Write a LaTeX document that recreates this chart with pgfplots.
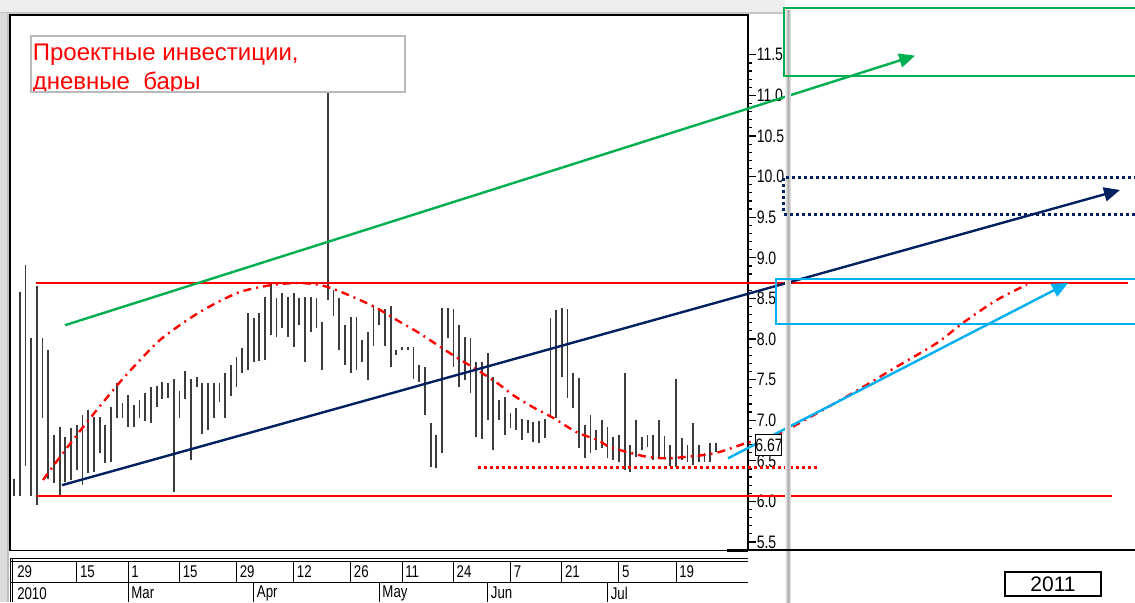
\documentclass[border=0pt]{standalone}
\usepackage{pgfplots}
\pgfplotsset{compat=1.18}
\usepackage{pgfplotstable}
\usepackage{fontspec}
\setmainfont{Liberation Sans}
\usetikzlibrary{arrows.meta}
\definecolor{tgreen}{RGB}{0,176,80}
\definecolor{tnavy}{RGB}{0,32,96}
\definecolor{tcyan}{RGB}{0,176,240}
\definecolor{barc}{RGB}{60,60,60}
\newcommand{\cond}[2]{\scalebox{0.78}[1]{\fontsize{#1}{#1}\selectfont #2}}

\pgfplotstableread{
i hi lo
0 6.27 6.07
1 8.58 6.07
2 8.91 6.44
3 8.01 6.07
4 8.65 5.96
5 8.01 7.03
6 7.86 6.28
7 6.82 6.23
8 6.92 6.08
9 6.79 6.24
10 6.90 6.26
11 6.94 6.39
12 7.06 6.20
13 7.13 6.35
14 7.04 6.36
15 7.04 6.60
16 6.94 6.47
17 7.16 6.49
18 7.46 7.03
19 7.21 7.03
20 7.31 6.92
21 7.19 6.92
22 7.25 7.03
23 7.33 6.99
24 7.41 6.97
25 7.42 7.16
26 7.47 7.26
27 7.46 7.27
28 7.51 6.12
29 7.36 7.03
30 7.61 7.26
31 7.51 6.51
32 7.53 7.41
33 7.46 6.83
34 7.46 6.88
35 7.46 7.03
36 7.46 7.22
37 7.58 7.03
38 7.68 7.30
39 7.78 7.41
40 7.89 7.58
41 8.32 7.62
42 8.26 7.72
43 8.32 7.73
44 8.52 7.74
45 8.69 8.05
46 8.50 8.02
47 8.57 8.14
48 8.52 8.02
49 8.57 7.90
50 8.50 8.17
51 8.52 7.72
52 8.52 8.09
53 8.50 8.14
54 8.21 7.62
55 11.04 8.48
56 8.60 8.28
57 8.50 7.86
58 8.17 7.68
59 8.27 7.58
60 8.27 7.62
61 7.99 7.72
62 8.09 7.50
63 8.41 7.91
64 8.38 8.17
65 8.37 7.91
66 8.41 7.66
67 7.86 7.80
68 7.90 7.87
69 7.90 7.87
70 7.90 7.51
71 7.68 7.47
72 7.66 7.06
73 6.97 6.42
74 6.82 6.41
75 8.38 6.60
76 8.38 8.01
77 8.37 7.66
78 8.17 7.41
79 8.02 7.50
80 8.01 7.33
81 7.72 6.79
82 7.72 6.77
83 7.83 7.00
84 7.53 6.63
85 7.25 7.00
86 7.29 6.82
87 7.09 6.90
88 7.15 6.88
89 7.01 6.76
90 7.00 6.84
91 6.98 6.73
92 6.99 6.72
93 7.01 6.78
94 8.26 7.06
95 8.36 7.03
96 8.38 7.53
97 8.37 7.27
98 7.58 7.15
99 7.52 6.66
100 6.94 6.53
101 7.06 6.60
102 6.88 6.63
103 7.00 6.66
104 6.92 6.53
105 6.79 6.51
106 6.82 6.49
107 7.58 6.39
108 6.69 6.36
109 7.00 6.55
110 6.79 6.63
111 6.82 6.67
112 6.82 6.51
113 7.00 6.53
114 6.80 6.55
115 6.69 6.44
116 7.51 6.42
117 6.78 6.51
118 6.69 6.49
119 6.97 6.45
120 6.69 6.49
121 6.60 6.49
122 6.72 6.49
123 6.72 6.61
}\bars

\pgfplotstableread{
i v
5.08 6.264
8.06 6.547
11.56 6.867
15.07 7.175
18.57 7.470
22.08 7.741
25.58 7.988
29.09 8.172
32.59 8.333
36.10 8.468
39.60 8.579
43.11 8.640
46.61 8.677
50.11 8.690
53.62 8.665
56.6 8.60
60.63 8.48
63.6 8.38
67.64 8.21
70.62 8.09
74.12 7.93
77.62 7.77
81.13 7.62
84.63 7.46
87.44 7.31
90.94 7.16
94.45 7.03
98.65 6.85
102.16 6.76
104.4 6.67
107.9 6.60
110.9 6.55
114.4 6.53
117.9 6.55
120.7 6.57
123.7 6.61
128.4 6.72
134.2 6.84
141.8 7.13
148.8 7.41
154.7 7.66
161.7 7.95
166.3 8.20
172.2 8.48
177.5 8.67
}\curve

\begin{document}
\begin{tikzpicture}
\begin{axis}[
  x=2.8535pt, y=40.6pt,
  xmin=-0.70, xmax=128.61, ymin=5.40, ymax=11.99,
  clip=false,
  axis line style={black, line width=0.6pt},
  xtick=\empty,
  ytick={5.5,6,...,11.5},
  minor y tick num=4,
  ytick pos=right,
  yticklabel pos=right,
  tick align=outside,
  major tick length=4pt,
  minor tick length=2pt,
  every tick/.style={black, line width=0.6pt},
  /pgf/number format/assume math mode=true,
  yticklabel style={anchor=west, inner sep=0pt, xshift=0.2pt},
  yticklabel={\cond{9}{\pgfmathprintnumber[fixed,fixed zerofill,precision=1]{\tick}}},
]
% window decorations
\fill[gray!14] (axis cs:-2.453,12.175) rectangle (axis cs:135.1,12.015);
\fill[gray!45] (axis cs:-2.453,12.03) rectangle (axis cs:135.1,12.005);
\fill[gray!28] (axis cs:-2.453,12.015) rectangle (axis cs:-0.876,4.761);
\fill[gray!50] (axis cs:-1.2,12.015) rectangle (axis cs:-0.876,4.761);

% price bars
\addplot[barc, line width=0.9pt, quiver={u=0, v=\thisrow{hi}-\thisrow{lo}}] table[x=i, y=lo] {\bars};

% horizontal levels
\addplot[red, line width=1.2pt] coordinates {(3.855,8.69) (195.2,8.69)};
\addplot[red, line width=1.2pt] coordinates {(3.855,6.07) (192.4,6.07)};
\addplot[red, line width=1.5pt, dash pattern=on 1.5pt off 1.5pt] coordinates {(81.3,6.42) (140.9,6.42)};

% red dash-dot curve
\addplot[red, line width=1.2pt, smooth, tension=0.5, dash pattern=on 4pt off 2.5pt on 1pt off 2.5pt] table[x=i, y=v] {\curve};

% trend lines with arrows
\addplot[tgreen, line width=1.2pt, -{Triangle[length=8pt,width=7pt]}] coordinates {(8.94,8.17) (157.9,11.49)};
\addplot[tnavy, line width=1.2pt, -{Triangle[length=8pt,width=7pt]}] coordinates {(8.41,6.20) (193.8,9.835)};
\addplot[tcyan, line width=1.2pt, -{Triangle[length=8pt,width=7pt]}] coordinates {(125.1,6.53) (184.7,8.69)};

% right shadow band
\shade[left color=gray!15, right color=gray!15, middle color=gray!65] (axis cs:135.15,12.05) rectangle (axis cs:136.1,4.761);

% target boxes
\addplot[tgreen, line width=1pt] coordinates {(200,12.076) (135.0,12.076) (135.0,11.235) (200,11.235)};
\addplot[tnavy, line width=1.5pt, dash pattern=on 1.5pt off 1.5pt] coordinates {(200,9.983) (134.9,9.983) (134.9,9.539) (200,9.539)};
\addplot[tcyan, line width=1pt] coordinates {(200,8.733) (133.52,8.733) (133.52,8.185) (200,8.185)};

% 6.67 marker
\draw[black, line width=0.5pt, fill=white] (axis cs:130.0,6.818) rectangle (axis cs:134.57,6.571);
\node[inner sep=0pt] at (axis cs:132.3,6.69) {\cond{9}{6.67}};

% bottom line
\draw[black, line width=0.8pt] (axis cs:128.61,5.40) -- (axis cs:197,5.40);
\draw[black, line width=1.6pt] (axis cs:124.9,5.395) -- (axis cs:128.61,5.395);

% title box
\fill[white] (axis cs:2.979,11.732) rectangle (axis cs:68.51,11.042);
\begin{scope}
\clip (axis cs:2.979,11.74) rectangle (axis cs:68.51,11.042);
\node[anchor=base west, inner sep=0pt, text=red] at (axis cs:3.24,11.436) {\fontsize{12}{14}\selectfont Проектные инвестиции,};
\node[anchor=base west, inner sep=0pt, text=red] at (axis cs:3.24,11.067) {\fontsize{12}{14}\selectfont дневные\ \ бары};
\end{scope}
\draw[gray!55, line width=1pt] (axis cs:2.979,11.732) rectangle (axis cs:68.51,11.042);

% date axis
\draw[black, line width=0.5pt] (axis cs:-0.70,5.303) -- (axis cs:128.61,5.303);
\draw[black, line width=0.5pt] (axis cs:-0.70,5.266) -- (axis cs:128.61,5.266);
\draw[black, line width=0.5pt] (axis cs:-0.70,5.007) -- (axis cs:128.61,5.007);
\draw[black, line width=0.5pt] (axis cs:-0.70,5.303) -- (axis cs:-0.70,4.761);
\draw[black, line width=0.5pt] (axis cs:-0.175,5.303) -- (axis cs:-0.175,4.761);
\pgfplotsinvokeforeach{11,20,29,39,49,59,68,77,87,96,106,116}{
  \draw[black, line width=0.5pt] (axis cs:#1,5.266) -- (axis cs:#1,5.007);
}
\pgfplotsinvokeforeach{20,42,64,83,104}{
  \draw[black, line width=0.5pt] (axis cs:#1,5.007) -- (axis cs:#1,4.761);
}
\node[anchor=west, inner sep=0pt] at (axis cs:0.5,5.131) {\cond{8.5}{29}};
\node[anchor=west, inner sep=0pt] at (axis cs:11.5,5.131) {\cond{8.5}{15}};
\node[anchor=west, inner sep=0pt] at (axis cs:20.5,5.131) {\cond{8.5}{1}};
\node[anchor=west, inner sep=0pt] at (axis cs:29.5,5.131) {\cond{8.5}{15}};
\node[anchor=west, inner sep=0pt] at (axis cs:39.5,5.131) {\cond{8.5}{29}};
\node[anchor=west, inner sep=0pt] at (axis cs:49.5,5.131) {\cond{8.5}{12}};
\node[anchor=west, inner sep=0pt] at (axis cs:59.5,5.131) {\cond{8.5}{26}};
\node[anchor=west, inner sep=0pt] at (axis cs:68.5,5.131) {\cond{8.5}{11}};
\node[anchor=west, inner sep=0pt] at (axis cs:77.5,5.131) {\cond{8.5}{24}};
\node[anchor=west, inner sep=0pt] at (axis cs:87.5,5.131) {\cond{8.5}{7}};
\node[anchor=west, inner sep=0pt] at (axis cs:96.5,5.131) {\cond{8.5}{21}};
\node[anchor=west, inner sep=0pt] at (axis cs:106.5,5.131) {\cond{8.5}{5}};
\node[anchor=west, inner sep=0pt] at (axis cs:116.5,5.131) {\cond{8.5}{19}};
\node[anchor=west, inner sep=0pt] at (axis cs:0.5,4.870) {\cond{8.5}{2010}};
\node[anchor=west, inner sep=0pt] at (axis cs:20.5,4.870) {\cond{8.5}{Mar}};
\node[anchor=west, inner sep=0pt] at (axis cs:42.5,4.870) {\cond{8.5}{Apr}};
\node[anchor=west, inner sep=0pt] at (axis cs:64.5,4.870) {\cond{8.5}{May}};
\node[anchor=west, inner sep=0pt] at (axis cs:83.5,4.870) {\cond{8.5}{Jun}};
\node[anchor=west, inner sep=0pt] at (axis cs:104.5,4.870) {\cond{8.5}{Jul}};

% 2011 box
\draw[black, line width=0.8pt] (axis cs:173.65,5.131) rectangle (axis cs:190.47,4.835);
\node[inner sep=0pt] at (axis cs:182.06,4.983) {\fontsize{10.5}{12}\selectfont 2011};

\coordinate (BL) at (axis cs:-2.453,4.761);
\coordinate (TR) at (axis cs:196.43,12.175);
\end{axis}
\pgfresetboundingbox
\path (BL) rectangle (TR);
\end{tikzpicture}
\end{document}
